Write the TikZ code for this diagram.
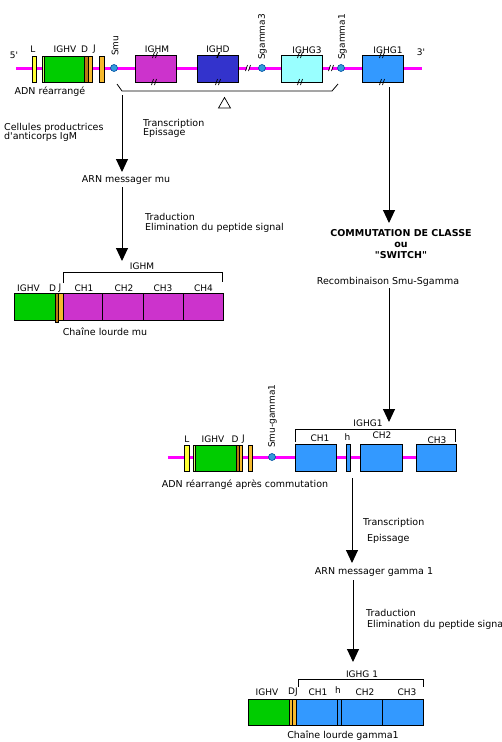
\documentclass[tikz,border=0pt]{standalone}
\usepackage{fontspec}
\setmainfont{DejaVu Sans}[Ligatures=TeXOff]
\usetikzlibrary{arrows.meta}
\definecolor{mag}{RGB}{255,0,255}
\definecolor{ylw}{RGB}{255,255,51}
\definecolor{grn}{RGB}{0,204,0}
\definecolor{pale}{RGB}{210,255,120}
\definecolor{brn}{RGB}{184,120,20}
\definecolor{org}{RGB}{245,185,45}
\definecolor{cighm}{RGB}{204,51,204}
\definecolor{cighd}{RGB}{51,51,204}
\definecolor{cighgthree}{RGB}{153,255,255}
\definecolor{cighg}{RGB}{51,153,255}
\definecolor{swf}{RGB}{51,153,221}
\definecolor{swd}{RGB}{0,80,160}
\newcommand\brkmark[2]{\draw[line width=0.7pt] ({#1-2.5},{#2+3})--({#1-0.5},{#2-3}) ({#1+0.5},{#2+3})--({#1+2.5},{#2-3});}
\newcommand\linebrk[2]{\draw[white,line width=2pt] ({#1-1},{#2+4})--({#1+1},{#2-4}); \brkmark{#1}{#2}}
\begin{document}
\begin{tikzpicture}[x=1pt,y=-1pt,
 txt/.style={font=\fontsize{9.5}{9.5}\selectfont, inner sep=0pt},
 lbl/.style={font=\fontsize{9}{10}\selectfont, inner sep=0pt},
 seg/.style={draw=black, line width=0.8pt},
 dna/.style={draw=mag, line width=3pt},
 flow/.style={line width=1pt, -{Triangle[width=12pt,length=13pt]}},
 swc/.style={circle, draw=swd, fill=swf, line width=0.6pt, minimum size=7pt, inner sep=0pt},
 brk/.style={line width=0.8pt}]
\useasboundingbox (0,0) rectangle (502,742);
\fill[white] (0,0) rectangle (502,742);

% ---------- top DNA ----------
\draw[dna] (16,68) -- (422,68);
\draw[seg, fill=ylw] (32,56) rectangle (36,82);
\draw[seg, fill=pale] (42,56) rectangle (44,82);
\draw[seg, fill=grn] (44,56) rectangle (84,82);
\draw[seg, fill=brn] (84,56) rectangle (88,82);
\draw[seg, fill=org] (88,56) rectangle (92,82);
\draw[seg, fill=org] (99,56) rectangle (104,82);
\node[swc] (smu) at (114,68) {};
\draw[seg, fill=cighm] (135,55) rectangle (176,82);
\draw[seg, fill=cighd] (197,55) rectangle (238,82);
\node[swc] (sg3) at (262,68) {};
\draw[seg, fill=cighgthree] (281,55) rectangle (322,82);
\node[swc] (sg1) at (341,68) {};
\draw[seg, fill=cighg] (362,55) rectangle (403,82);
\brkmark{155}{55}\brkmark{154}{82}
\draw[line width=1.2pt] (217,58)--(219.5,52);
\brkmark{218}{82}
\brkmark{300}{55}\brkmark{300}{82}
\brkmark{382}{55}\brkmark{382}{82}
\linebrk{248}{68}\linebrk{331}{68}

\node[lbl] (five) at (14,55) {5'};
\node[lbl] (three) at (421,52) {3'};
\node[lbl] (tL) at (33,49) {L};
\node[lbl] (tV) at (65,49) {IGHV};
\node[lbl] (tD) at (84.5,49) {D};
\node[lbl] (tJ) at (94.5,49) {J};
\node[lbl] (tM) at (157,49) {IGHM};
\node[lbl] (tDd) at (218,49) {IGHD};
\node[lbl] (tG3) at (307,50) {IGHG3};
\node[lbl] (tG1) at (388,50) {IGHG1};
\node[lbl, rotate=90, anchor=west] (lsmu) at (115,56) {Smu};
\node[lbl, rotate=90, anchor=west] (lsg3) at (262.5,60) {Sgamma3};
\node[lbl, rotate=90, anchor=west] (lsg1) at (342.5,60) {Sgamma1};
\node[txt] (adn1) at (50,92) {ADN réarrangé};

\draw[brk] (117,84) -- (122,91) -- (332,91) -- (338,84);
\draw[line width=0.7pt] (218.5,108) -- (224.5,97.5) -- (230.5,108) -- cycle;

% ---------- left branch ----------
\node[txt, anchor=west, align=left] (cell) at (4,132.5) {Cellules productrices\\d'anticorps IgM};
\node[txt, anchor=west, align=left] (tr1) at (143,128.5) {Transcription\\Epissage};
\coordinate (a1s) at (122,95);
\node[txt] (arnmu) at (126,180) {ARN messager mu};
\draw[flow] (a1s) -- (a1s |- 0,172);
\node[txt, anchor=west, align=left] (trad1) at (145,223) {Traduction\\Elimination du peptide signal};
\coordinate (a2e) at (122,261);
\draw[flow] (122,187) -- (a2e);

% heavy chain mu
\draw[brk] (63,283) -- (63,272) -- (222,272) -- (222,282);
\node[lbl] (hm) at (142,266) {IGHM};
\draw[seg, fill=grn] (14,293) rectangle (55,320);
\draw[seg, fill=brn] (55,293) rectangle (58,322);
\draw[seg, fill=org] (58,293) rectangle (63,320);
\draw[seg, fill=cighm] (63,293) rectangle (102,320);
\draw[seg, fill=cighm] (102,293) rectangle (143,320);
\draw[seg, fill=cighm] (143,293) rectangle (183,320);
\draw[seg, fill=cighm] (183,293) rectangle (223,320);
\node[lbl] (mv) at (28.5,288) {IGHV};
\node[lbl] (md) at (52.5,288) {D};
\node[lbl] (mj) at (60,288) {J};
\node[lbl] (mc1) at (84,288) {CH1};
\node[lbl] (mc2) at (124,288) {CH2};
\node[lbl] (mc3) at (163,288) {CH3};
\node[lbl] (mc4) at (203.5,288) {CH4};
\node[txt] (chmu) at (105,332) {Chaîne lourde mu};

% ---------- right branch ----------
\coordinate (g1b) at (389,87);
\coordinate (commtop) at (389,223);
\draw[flow] (g1b) -- (commtop);
\node[font=\fontsize{9.5}{11}\selectfont\bfseries, inner sep=0pt, align=center] (comm) at (401,244.5) {COMMUTATION DE CLASSE\\ou\\"SWITCH"};
\node[txt] (recomb) at (388,282) {Recombinaison Smu-Sgamma};
\coordinate (a3e) at (389,422);
\draw[flow] (389,288) -- (a3e);

% middle DNA after switch
\draw[dna] (168,457) -- (455,457);
\draw[seg, fill=ylw] (184,445) rectangle (189,471);
\draw[seg, fill=pale] (193,445) rectangle (195,471);
\draw[seg, fill=grn] (195,445) rectangle (236,471);
\draw[seg, fill=brn] (236,445) rectangle (239,471);
\draw[seg, fill=org] (239,445) rectangle (242,471);
\draw[seg, fill=org] (248,445) rectangle (252,471);
\node[swc] (smug) at (272,457) {};
\draw[seg, fill=cighg] (295,444) rectangle (336,471);
\draw[seg, fill=cighg] (346,444) rectangle (350,471);
\draw[seg, fill=cighg] (360,444) rectangle (402,471);
\draw[seg, fill=cighg] (416,444) rectangle (456,471);
\draw[brk] (295,442) -- (295,429) -- (455,429) -- (455,442);
\node[lbl] (g1lab) at (368,423) {IGHG1};
\node[lbl] (nL) at (187,439) {L};
\node[lbl] (nV) at (213,439) {IGHV};
\node[lbl] (nD) at (235,439) {D};
\node[lbl] (nJ) at (243.5,439) {J};
\node[lbl, rotate=90, anchor=west] (lsmug) at (272.5,448) {Smu-gamma1};
\node[lbl] (nc1) at (320,438) {CH1};
\node[lbl] (nh) at (347.5,437) {h};
\node[lbl] (nc2) at (382,435) {CH2};
\node[lbl] (nc3) at (437,440) {CH3};
\node[txt] (adn2) at (245,485) {ADN réarrangé après commutation};

\coordinate (a4s) at (352,478);
\draw[flow] (a4s) -- (352,563);
\node[txt, anchor=west] (tr2a) at (363,523) {Transcription};
\node[txt, anchor=west] (tr2b) at (367,539) {Epissage};
\node[txt] (arng) at (374,572) {ARN messager gamma 1};
\coordinate (a5e) at (353,662);
\draw[flow] (353,580) -- (a5e);
\node[txt, anchor=west] (trad2a) at (366,613) {Traduction};
\node[txt, anchor=west] (trad2b) at (367,625) {Elimination du peptide signal};

% heavy chain gamma1
\draw[brk] (298,687) -- (298,679) -- (423,679) -- (423,687);
\node[lbl] (hg) at (362,674) {IGHG 1};
\draw[seg, fill=grn] (248,699) rectangle (289,725);
\draw[seg, fill=org] (289,699) rectangle (292.5,725);
\draw[seg, fill=org] (292.5,699) rectangle (296,725);
\draw[seg, fill=cighg] (296,699) rectangle (337,725);
\draw[seg, fill=cighg] (337,699) rectangle (341,725);
\draw[seg, fill=cighg] (341,699) rectangle (382,725);
\draw[seg, fill=cighg] (382,699) rectangle (423,725);
\node[lbl] (gv) at (267,692) {IGHV};
\node[lbl] (gdj) at (293,692) {DJ};
\node[lbl] (gc1) at (318,692) {CH1};
\node[lbl] (gh) at (338,690) {h};
\node[lbl] (gc2) at (365,692) {CH2};
\node[lbl] (gc3) at (407,692) {CH3};
\node[txt] (chg) at (343,736) {Chaîne lourde gamma1};
\end{tikzpicture}
\end{document}
